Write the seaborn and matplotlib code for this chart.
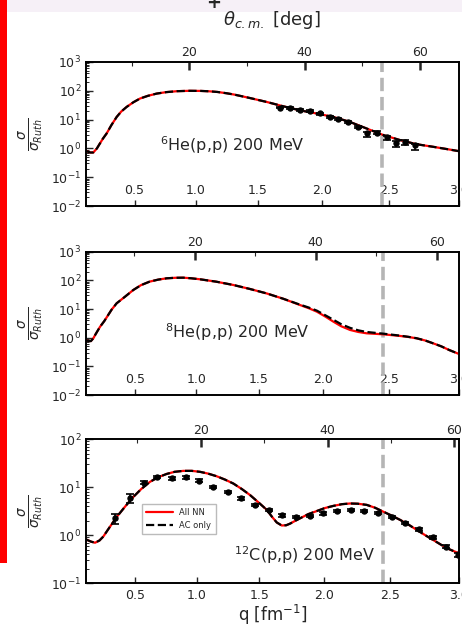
import numpy as np
import matplotlib
matplotlib.use("Agg")
import matplotlib.pyplot as plt
from matplotlib.patches import Rectangle
from matplotlib.ticker import (LogLocator, NullFormatter, FixedLocator,
                               NullLocator, FixedFormatter)
import seaborn as sns

# ---------------- data ----------------
Q_TICKS = [0.5, 1.0, 1.5, 2.0, 2.5, 3.0]
Q_TICK_LABELS = ["0.5", "1.0", "1.5", "2.0", "2.5", "3.0"]
THETA_TICKS = [20, 40, 60]
THETA_MINOR = [10, 30, 50]
THETA_TICK_LABELS = ["20", "40", "60"]
VLINE_Q = 2.45

# 2k (fm^-1) for each reaction: q = 2k sin(theta/2)
TWO_K = {"he6": 5.454, "he8": 5.685, "c12": 5.935}

# 6He(p,p)
Q_HE6 = [0.100, 0.111, 0.135, 0.160, 0.190, 0.215, 0.240, 0.270, 0.310, 0.353,
         0.390, 0.435, 0.490, 0.545, 0.610, 0.681, 0.760, 0.850, 0.950, 1.042,
         1.110, 1.176, 1.250, 1.309, 1.436, 1.568, 1.698, 1.829, 1.957, 2.085,
         2.211, 2.337, 2.461, 2.583, 2.700, 2.818, 2.931, 3.000]
HE6_ALLNN = [0.83, 0.78, 0.72, 0.72, 1.0, 1.49, 2.2, 3.3, 6.5, 12.4,
             19, 27.6, 40, 54, 67, 80, 90, 97, 100, 99,
             96, 91, 82, 74, 56, 41, 29, 21, 16.3, 12.4,
             8.3, 4.9, 2.9, 1.94, 1.4, 1.14, 0.92, 0.80]
HE6_AC = [0.83, 0.78, 0.72, 0.72, 1.0, 1.49, 2.2, 3.3, 6.5, 12.4,
          19, 27.6, 40, 54, 67, 80, 90, 97, 100, 99,
          96, 91, 82, 74, 56, 41, 29, 21, 16.3, 12.4,
          8.3, 4.9, 2.9, 1.94, 1.4, 1.14, 0.92, 0.80]
HE6_DATA_Q = [1.673, 1.751, 1.829, 1.906, 1.983, 2.060, 2.123, 2.198, 2.274,
              2.337, 2.411, 2.484, 2.553, 2.618, 2.690]
HE6_DATA = [26.3, 25.5, 22.4, 19.6, 16.3, 12.4, 10.9, 8.3, 5.6,
            3.3, 3.5, 2.4, 1.56, 1.69, 1.27]
HE6_ERR_LO = [2.0, 2.0, 1.8, 1.6, 1.3, 1.0, 0.9, 0.7, 0.6,
              0.8, 0.4, 0.4, 0.4, 0.35, 0.4]
HE6_ERR_HI = [2.0, 2.0, 1.8, 1.6, 1.3, 1.0, 0.9, 0.7, 0.6,
              0.35, 0.4, 0.25, 0.2, 0.2, 0.2]

# 8He(p,p)
Q_HE8 = [0.100, 0.120, 0.140, 0.160, 0.180, 0.215, 0.250, 0.310, 0.351, 0.420,
         0.487, 0.550, 0.620, 0.690, 0.760, 0.830, 0.895, 0.960, 1.030, 1.160,
         1.297, 1.430, 1.562, 1.690, 1.823, 1.890, 1.953, 2.020, 2.081, 2.140,
         2.207, 2.270, 2.332, 2.456, 2.578, 2.640, 2.698, 2.760, 2.816, 2.875,
         2.932, 3.000]
HE8_ALLNN = [0.80, 0.77, 0.76, 0.95, 1.35, 2.4, 3.8, 9.5, 15.8, 27,
             46, 68, 90, 106, 118, 123, 124, 118, 109, 90,
             69, 50, 35, 23, 13.8, 10.7, 8.1, 5.4, 3.6, 2.5,
             1.86, 1.58, 1.42, 1.31, 1.15, 1.06, 0.95, 0.80, 0.64, 0.50,
             0.37, 0.27]
HE8_AC = [0.80, 0.77, 0.76, 0.95, 1.35, 2.4, 3.8, 9.5, 15.8, 27,
          46, 68, 90, 106, 118, 123, 124, 118, 109, 90,
          69, 50, 35, 23, 14.2, 11.3, 8.8, 6.0, 4.2, 2.95,
          2.2, 1.8, 1.58, 1.38, 1.18, 1.07, 0.96, 0.80, 0.64, 0.50,
          0.37, 0.27]

# 12C(p,p)
Q_C12 = [0.100, 0.140, 0.174, 0.210, 0.241, 0.290, 0.350, 0.420, 0.486, 0.550,
         0.621, 0.690, 0.757, 0.820, 0.891, 0.960, 1.026, 1.090, 1.159, 1.225,
         1.292, 1.360, 1.425, 1.490, 1.557, 1.600, 1.636, 1.675, 1.710, 1.740,
         1.780, 1.818, 1.880, 1.947, 2.010, 2.075, 2.140, 2.202, 2.260, 2.328,
         2.390, 2.452, 2.510, 2.575, 2.640, 2.697, 2.760, 2.816, 2.875, 2.933,
         3.000]
C12_ALLNN = [0.82, 0.74, 0.70, 0.78, 0.94, 1.44, 2.4, 4.0, 6.3, 9.2,
             13, 16.3, 19, 21, 22, 22, 21, 19.3, 17, 14.5,
             12, 9.2, 6.9, 4.9, 3.4, 2.4, 1.85, 1.6, 1.62, 1.75,
             2.0, 2.26, 2.75, 3.2, 3.7, 4.1, 4.45, 4.6, 4.55, 4.3,
             3.75, 3.1, 2.6, 2.1, 1.65, 1.3, 1.0, 0.8, 0.63, 0.51,
             0.42]
C12_AC = [0.82, 0.74, 0.70, 0.78, 0.94, 1.44, 2.4, 4.0, 6.3, 9.2,
          13, 16.3, 19, 21, 22, 22, 21, 19.3, 17, 14.5,
          12, 9.2, 6.9, 4.9, 3.4, 2.4, 1.85, 1.6, 1.62, 1.75,
          2.0, 2.26, 2.75, 3.2, 3.7, 4.1, 4.45, 4.6, 4.55, 4.3,
          3.75, 3.1, 2.6, 2.1, 1.65, 1.3, 1.0, 0.8, 0.63, 0.51,
          0.42]
C12_DATA_Q = [0.336, 0.459, 0.573, 0.681, 0.797, 0.911, 1.020, 1.133, 1.248,
              1.353, 1.465, 1.575, 1.679, 1.783, 1.895, 1.998, 2.100, 2.207,
              2.309, 2.409, 2.513, 2.611, 2.714, 2.813, 2.908, 2.995]
C12_DATA = [2.26, 5.9, 12.5, 16.6, 15.4, 16.1, 13.8, 10.3, 8.0,
            5.9, 4.3, 3.4, 2.6, 2.4, 2.5, 2.87, 3.2, 3.4,
            3.2, 2.9, 2.4, 1.78, 1.33, 0.91, 0.58, 0.39]
C12_ERR = [0.5, 1.3, 0.9, 1.0, 0.9, 0.9, 0.8, 0.6, 0.5,
           0.35, 0.25, 0.2, 0.15, 0.14, 0.15, 0.17, 0.19, 0.2,
           0.19, 0.17, 0.14, 0.1, 0.08, 0.06, 0.04, 0.03]

LABELS = [r"$^{6}$He(p,p) 200 MeV", r"$^{8}$He(p,p) 200 MeV", r"$^{12}$C(p,p) 200 MeV"]

# ---------------- style ----------------
sns.set_style("ticks")
plt.rcParams["font.family"] = ["DejaVu Sans"]
plt.rcParams["mathtext.fontset"] = "dejavusans"

W, H = 462, 627
fig = plt.figure(figsize=(W / 100, H / 100), dpi=100)

# cropping artefacts of the original figure
fig.patches.append(Rectangle((7 / W, 1 - 12 / H), 1, 12 / H, transform=fig.transFigure,
                             facecolor="#f6f0f7", edgecolor="none", zorder=0))
fig.patches.append(Rectangle((0, 1 - 563 / H), 7 / W, 563 / H, transform=fig.transFigure,
                             facecolor="#ff0000", edgecolor="none", zorder=0))
fig.text(214 / W, 1 - 3 / H, "+", fontsize=13, fontweight="bold", ha="center", va="center")


def make_funcs(two_k):
    def fwd(q):
        q = np.asarray(q, dtype=float)
        return 2 * np.degrees(np.arcsin(np.clip(q / two_k, -1, 1)))

    def inv(t):
        t = np.asarray(t, dtype=float)
        return two_k * np.sin(np.radians(t) / 2)
    return fwd, inv


panels = [
    dict(rect=(86 / W, 1 - 206 / H, 373 / W, 144 / H), k=TWO_K["he6"], ylim=(1e-2, 1e3),
         q=Q_HE6, allnn=HE6_ALLNN, ac=HE6_AC, label=LABELS[0], txt=(0.199, 0.384),
         data=(HE6_DATA_Q, HE6_DATA, [HE6_ERR_LO, HE6_ERR_HI])),
    dict(rect=(86 / W, 1 - 395 / H, 373 / W, 143.3 / H), k=TWO_K["he8"], ylim=(1e-2, 1e3),
         q=Q_HE8, allnn=HE8_ALLNN, ac=HE8_AC, label=LABELS[1], txt=(0.212, 0.396),
         data=None),
    dict(rect=(86 / W, 1 - 583.3 / H, 373 / W, 144 / H), k=TWO_K["c12"], ylim=(1e-1, 1e2),
         q=Q_C12, allnn=C12_ALLNN, ac=C12_AC, label=LABELS[2], txt=(0.396, 0.155),
         data=(C12_DATA_Q, C12_DATA, C12_ERR)),
]

for i, p in enumerate(panels):
    ax = fig.add_axes(p["rect"])
    last = i == len(panels) - 1
    sns.lineplot(x=p["q"], y=p["allnn"], color="red", lw=1.6, ax=ax, sort=False,
                 estimator=None, label="All NN" if last else None, zorder=3)
    sns.lineplot(x=p["q"], y=p["ac"], color="black", lw=1.6, linestyle="--", ax=ax,
                 sort=False, estimator=None, label="AC only" if last else None, zorder=4)
    if p["data"] is not None:
        dq, dv, de = p["data"]
        ax.errorbar(dq, dv, yerr=de, fmt="o", color="black", ms=3.6, elinewidth=1.2,
                    capsize=2.6, capthick=1.2, zorder=5)
    ax.axvline(VLINE_Q, color="#b5b5b5", lw=2.6, ls="--", zorder=2)

    fwd, inv = make_funcs(p["k"])
    ax.set_xscale("function", functions=(fwd, inv))
    ax.set_yscale("log")
    ax.set_xlim(0.1, 3.0)
    ax.set_ylim(*p["ylim"])

    # top theta axis
    axt = ax.twiny()
    axt.set_xlim(fwd(0.1), fwd(3.0))
    axt.xaxis.set_major_locator(FixedLocator(THETA_TICKS))
    axt.xaxis.set_major_formatter(FixedFormatter(THETA_TICK_LABELS))
    axt.xaxis.set_minor_locator(FixedLocator(THETA_MINOR))
    axt.tick_params(axis="x", which="major", direction="in", length=6, width=1.8,
                    labelsize=9, pad=2, top=True, bottom=False)
    axt.tick_params(axis="x", which="minor", direction="in", length=3, width=0.8,
                    top=True, bottom=False)

    ax.xaxis.set_major_locator(FixedLocator(Q_TICKS))
    ax.xaxis.set_major_formatter(FixedFormatter(Q_TICK_LABELS))
    ax.xaxis.set_minor_locator(NullLocator())
    ax.yaxis.set_major_locator(LogLocator(base=10, numticks=12))
    ax.yaxis.set_minor_locator(LogLocator(base=10, subs=np.arange(2, 10), numticks=12))
    ax.yaxis.set_minor_formatter(NullFormatter())
    ax.tick_params(axis="x", which="major", direction="in", length=4, width=1,
                   labelsize=9, pad=(4 if last else -16), top=False)
    ax.tick_params(axis="y", which="major", direction="in", length=5, width=1,
                   labelsize=9, right=False)
    ax.tick_params(axis="y", which="minor", direction="in", length=2.5, width=0.7,
                   right=False)
    for a in (ax, axt):
        for s in a.spines.values():
            s.set_linewidth(1.2)
            s.set_color("black")

    ax.set_ylabel(r"$\frac{\sigma}{\sigma_{Ruth}}$", fontsize=14)
    ax.yaxis.set_label_coords(-0.11, 0.5)
    ax.text(p["txt"][0], p["txt"][1], p["label"], transform=ax.transAxes,
            fontsize=11.5, ha="left", va="baseline")

    if last:
        ax.set_xlabel("q [fm$^{-1}$]", fontsize=12, labelpad=1)
        ax.legend(loc="lower left", bbox_to_anchor=(0.15, 0.34), borderaxespad=0,
                  fontsize=6, fancybox=False, edgecolor="#bbbbbb", framealpha=1,
                  handlelength=3.2, handletextpad=0.8, borderpad=0.5, labelspacing=0.5)
    else:
        ax.set_xlabel("")
        leg = ax.get_legend()
        if leg is not None:
            leg.remove()

fig.text(272 / W, 1 - 20 / H, r"$\theta_{c.m.}$ [deg]", fontsize=13,
         ha="center", va="center")

fig.savefig("out.png", dpi=100)
